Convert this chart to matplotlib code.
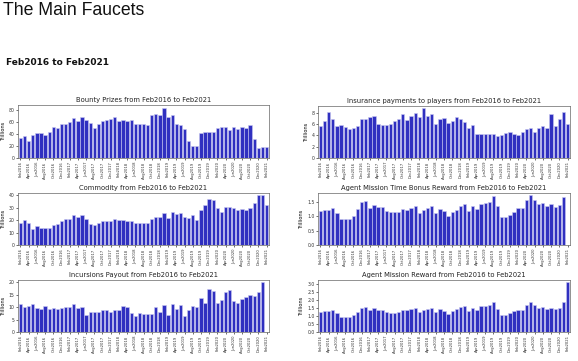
import matplotlib
matplotlib.use("Agg")
import matplotlib.pyplot as plt
import numpy as np

months = []
names = ["Jan", "Feb", "Mar", "Apr", "May", "Jun", "Jul", "Aug", "Sep", "Oct", "Nov", "Dec"]
for y in range(2016, 2022):
    for m in range(12):
        months.append(f"{names[m]}{y}")
months = months[1:62]  # Feb2016 .. Feb2021

bounty = [33, 37, 29, 38, 42, 42, 39, 44, 51, 50, 56, 57, 60, 66, 61, 69, 63, 58, 50, 57,
          61, 63, 65, 68, 61, 64, 62, 63, 57, 57, 56, 55, 72, 73, 72, 84, 69, 71, 57, 55,
          48, 28, 20, 20, 41, 43, 43, 44, 50, 51, 51, 46, 51, 48, 51, 50, 55, 31, 16, 19, 19]
insurance = [5.6, 6.5, 8.1, 7.0, 5.6, 5.8, 5.5, 5.1, 5.4, 5.7, 7.0, 6.9, 7.2, 7.5, 6.1, 5.9,
             5.8, 6.0, 6.6, 6.9, 7.8, 6.7, 7.5, 8.0, 7.3, 8.8, 7.4, 7.8, 6.0, 6.9, 7.1, 6.2,
             6.5, 7.2, 6.9, 6.4, 5.3, 5.8, 4.2, 4.3, 4.2, 4.3, 4.3, 3.9, 4.1, 4.4, 4.6, 4.2,
             4.0, 4.6, 5.1, 5.4, 4.7, 5.3, 5.6, 5.4, 7.8, 5.6, 7.0, 8.1, 6.1]
commodity = [18, 20, 18, 13, 15, 14, 14, 14, 16, 17, 19, 21, 21, 24, 23, 24, 21, 17, 16, 18,
             19, 19, 19, 21, 20, 20, 19, 19, 18, 18, 18, 18, 21, 23, 23, 26, 22, 27, 25, 26,
             23, 22, 24, 20, 28, 32, 37, 36, 30, 27, 31, 31, 30, 28, 29, 28, 30, 34, 40, 40, 32]
time_bonus = [1.18, 1.21, 1.22, 1.29, 1.10, 0.90, 0.90, 0.92, 0.99, 1.25, 1.48, 1.52, 1.28,
              1.40, 1.31, 1.31, 1.19, 1.13, 1.13, 1.14, 1.25, 1.21, 1.29, 1.35, 1.12, 1.20,
              1.29, 1.34, 1.12, 1.25, 1.19, 0.99, 1.14, 1.21, 1.34, 1.43, 1.19, 1.34, 1.26,
              1.44, 1.47, 1.50, 1.70, 1.34, 0.98, 0.98, 1.05, 1.15, 1.27, 1.27, 1.57, 1.72,
              1.55, 1.42, 1.46, 1.35, 1.42, 1.33, 1.38, 1.68, 0.0]
incursions = [11.2, 10.2, 10.3, 11.5, 9.8, 9.1, 10.4, 9.2, 9.8, 9.4, 9.7, 10.2, 10.2, 11.2,
              9.8, 9.9, 6.9, 7.9, 8.0, 8.2, 8.9, 9.0, 8.2, 8.8, 8.9, 10.3, 10.2, 7.7, 6.5,
              7.5, 7.3, 7.4, 7.3, 9.9, 8.2, 10.9, 6.7, 11.3, 9.1, 10.8, 6.5, 8.9, 10.6, 10.2,
              13.8, 11.8, 17.3, 16.5, 11.6, 12.9, 16.0, 16.8, 12.6, 11.6, 13.2, 14.3, 14.8,
              14.6, 16.2, 20.0, 0.0]
mission_reward = [1.27, 1.32, 1.31, 1.38, 1.18, 0.97, 0.97, 0.97, 1.08, 1.27, 1.53, 1.57,
                  1.35, 1.49, 1.39, 1.38, 1.26, 1.22, 1.22, 1.25, 1.35, 1.35, 1.42, 1.51,
                  1.27, 1.38, 1.46, 1.51, 1.25, 1.41, 1.33, 1.14, 1.30, 1.42, 1.55, 1.64,
                  1.34, 1.51, 1.40, 1.62, 1.62, 1.66, 1.85, 1.45, 1.08, 1.04, 1.16, 1.29,
                  1.40, 1.40, 1.70, 1.90, 1.72, 1.52, 1.56, 1.43, 1.53, 1.43, 1.50, 1.85, 3.10]

titles = ["Bounty Prizes from Feb2016 to Feb2021",
          "Insurance payments to players from Feb2016 to Feb2021",
          "Commodity from Feb2016 to Feb2021",
          "Agent Mission Time Bonus Reward from Feb2016 to Feb2021",
          "Incursions Payout from Feb2016 to Feb2021",
          "Agent Mission Reward from Feb2016 to Feb2021"]
series = [bounty, insurance, commodity, time_bonus, incursions, mission_reward]
yticks = [[0, 20, 40, 60, 80], [0, 2, 4, 6, 8], [0, 10, 20, 30, 40],
          [0.0, 0.5, 1.0, 1.5], [0, 5, 10, 15, 20], [0.0, 0.5, 1.0, 1.5, 2.0, 2.5, 3.0]]

W, H = 578, 361
fig = plt.figure(figsize=(W / 100, H / 100), dpi=100)
fig.text(3 / W, 1 - 2 / H, "The Main Faucets", fontsize=12.7, family="Liberation Sans",
         ha="left", va="top", color="#111111")
fig.text(6 / W, 1 - 58 / H, "Feb2016 to Feb2021", fontsize=6.5, fontweight="bold",
         ha="left", va="top", color="#111111")

# axes boxes in pixel coords: (left, top, right, bottom)
boxes = [(18, 105, 269, 158), (318, 106, 570, 158),
         (18, 193, 269, 245), (318, 193, 570, 245),
         (18, 280, 269, 332), (318, 280, 570, 332)]

x = np.arange(len(months))
for (l, t, r, b), title, vals, yt in zip(boxes, titles, series, yticks):
    ax = fig.add_axes([l / W, 1 - b / H, (r - l) / W, (b - t) / H])
    ax.bar(x, vals, width=0.8, color="#3030c0", edgecolor="#c8c8f0", linewidth=0.4)
    ax.set_xlim(-0.6, len(months) - 0.4)
    ax.set_xticks(x[::2])
    ax.set_xticklabels(months[::2], rotation=90, fontsize=2.7, color="#333333")
    ax.set_yticks(yt)
    ax.set_yticklabels([str(v) for v in yt], fontsize=3.3, color="#333333")
    ax.set_ylim(0, max(vals) * 1.05)
    ax.set_ylabel("Trillions", fontsize=3.6, labelpad=2)
    ax.set_title(title, fontsize=4.9, pad=2, color="#222222")
    ax.tick_params(length=1.5, width=0.4, pad=1)
    for s in ax.spines.values():
        s.set_linewidth(0.5)
        s.set_color("#666666")

fig.savefig("out.png", dpi=100)
